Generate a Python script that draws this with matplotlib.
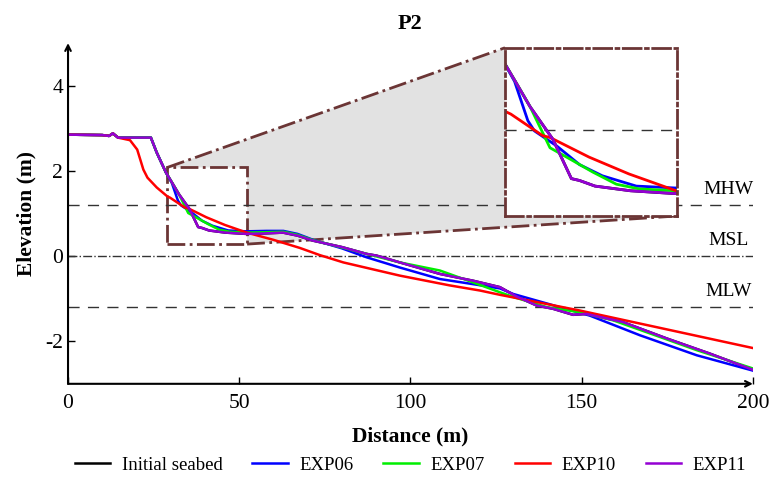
import matplotlib.pyplot as plt
from matplotlib.patches import Rectangle, Polygon

plt.rcParams['font.family'] = ['Liberation Serif', 'DejaVu Serif']
plt.rcParams['axes.unicode_minus'] = False

# profiles (distance m, elevation m)
exp11_x = [0, 10, 12, 13.1, 14.6, 20, 24.2, 25.9, 28.6, 30.4, 32.4, 35.5, 38.0, 39.1, 41.2, 46, 52, 57, 62.8,
           67, 71.6, 80, 87.2, 90.1, 96.9, 108.6, 118.3, 126.1, 131, 136.8, 141.7, 147.5, 151.4, 162, 175, 187.4, 200]
exp11_y = [2.85, 2.84, 2.82, 2.88, 2.78, 2.78, 2.78, 2.43, 1.96, 1.72, 1.45, 1.10, 0.68, 0.66, 0.60, 0.55, 0.52, 0.53, 0.55,
           0.48, 0.36, 0.21, 0.05, 0.01, -0.15, -0.42, -0.58, -0.73, -0.95, -1.16, -1.24, -1.38, -1.36, -1.55, -1.94, -2.29, -2.67]

exp06_x = [0, 10, 12, 13.1, 14.6, 20, 24.2, 25.9, 28.6, 30.3, 32.1, 33.0, 36.0, 39.1, 42.2, 46.8, 52, 58, 62.9,
           67, 71.6, 80, 87.2, 96.9, 108.6, 118.3, 126.1, 130, 143.6, 152.4, 167, 183.6, 200]
exp06_y = [2.85, 2.84, 2.82, 2.88, 2.78, 2.78, 2.78, 2.43, 1.96, 1.72, 1.30, 1.19, 1.03, 0.83, 0.71, 0.60, 0.58, 0.59, 0.59,
           0.52, 0.38, 0.18, -0.03, -0.27, -0.54, -0.66, -0.76, -0.89, -1.20, -1.40, -1.86, -2.33, -2.69]

exp07_x = [0, 10, 12, 13.1, 14.6, 20, 24.2, 25.9, 28.6, 30.4, 32.4, 35.1, 37.8, 40.9, 44.1, 47.2, 52, 58, 62.9,
           67, 71.6, 80, 87.2, 96.9, 108.6, 118.3, 126.1, 130, 139.8, 149.5, 159.2, 169, 183.6, 200]
exp07_y = [2.85, 2.84, 2.82, 2.88, 2.78, 2.78, 2.78, 2.43, 1.96, 1.72, 1.45, 1.01, 0.89, 0.75, 0.62, 0.57, 0.55, 0.56, 0.57,
           0.50, 0.37, 0.20, 0.05, -0.15, -0.34, -0.62, -0.85, -0.96, -1.20, -1.32, -1.51, -1.79, -2.21, -2.64]

exp10_x = [0, 10, 12, 13.1, 14.6, 18.1, 20.2, 22.0, 23.2, 25.9, 29.0, 29.8, 34.1, 35.1, 40.4, 45.8, 52.2, 60, 67.7,
           73.6, 80.4, 96.9, 111.5, 120.3, 126.1, 149.5, 200]
exp10_y = [2.85, 2.84, 2.82, 2.88, 2.78, 2.72, 2.50, 2.03, 1.84, 1.61, 1.40, 1.37, 1.14, 1.12, 0.91, 0.73, 0.55, 0.38, 0.19,
           0.02, -0.15, -0.46, -0.69, -0.81, -0.91, -1.28, -2.16]

init_x = exp11_x
init_y = exp11_y

series = [
    ('Initial seabed', init_x, init_y, 'black'),
    ('EXP06', exp06_x, exp06_y, '#0000ff'),
    ('EXP07', exp07_x, exp07_y, '#00ee00'),
    ('EXP10', exp10_x, exp10_y, '#ff0000'),
    ('EXP11', exp11_x, exp11_y, '#9400d3'),
]

levels = {'MHW': 1.2, 'MSL': 0.0, 'MLW': -1.2}

# zoom window (data) and where the inset sits (data coords of main axes)
zx0, zx1, zy0, zy1 = 29.0, 52.3, 0.28, 2.08
ix0, ix1, iy0, iy1 = 127.6, 177.8, 0.94, 4.89
box_color = '#6b3535'

fig = plt.figure(figsize=(7.73, 4.84), dpi=100)
ax = fig.add_axes([0.088, 0.207, 0.886, 0.704])

poly = Polygon([(zx0, zy1), (ix0, iy1), (ix1, iy0), (zx1, zy0), (zx1, zy1)],
               closed=True, facecolor='#e2e2e2', edgecolor='none', zorder=1)
ax.add_patch(poly)
ax.plot([zx0, ix0], [zy1, iy1], color=box_color, lw=2, ls='-.', zorder=1.5)
ax.plot([zx1, ix1], [zy0, iy0], color=box_color, lw=2, ls='-.', zorder=1.5)
ax.add_patch(Rectangle((zx0, zy0), zx1 - zx0, zy1 - zy0, fill=False,
                       edgecolor=box_color, lw=2, ls='-.', zorder=1.5))

for name, y in levels.items():
    ax.axhline(y, color='#333333', lw=1, ls='-.' if name == 'MSL' else (0, (8, 6)), zorder=2)
    ax.text(193, y + 0.37, name, ha='center', va='center', fontsize=14)

for name, xs, ys, c in series:
    ax.plot(xs, ys, color=c, lw=1.8, label=name, zorder=3)

ax.set_xlim(0, 200)
ax.set_ylim(-3, 5)
ax.set_xticks([0, 50, 100, 150, 200])
ax.set_yticks([-2, 0, 2, 4])
ax.tick_params(direction='in', length=5, width=1, labelsize=15.5)
ax.tick_params(axis='x', pad=7)
for s in ['top', 'right', 'left', 'bottom']:
    ax.spines[s].set_visible(False)
ax.annotate('', xy=(1.0, 0), xytext=(0, 0), xycoords='axes fraction',
            arrowprops=dict(arrowstyle='->', lw=1.5, color='black', shrinkA=0, shrinkB=0))
ax.annotate('', xy=(0, 1.0), xytext=(0, 0), xycoords='axes fraction',
            arrowprops=dict(arrowstyle='->', lw=1.5, color='black', shrinkA=0, shrinkB=0))

ax.set_title('P2', fontsize=16, fontweight='bold', pad=10)
ax.set_xlabel('Distance (m)', fontsize=15.5, fontweight='bold', labelpad=10)
ax.set_ylabel('Elevation (m)', fontsize=15.5, fontweight='bold', labelpad=6)

ax.legend(loc='upper center', bbox_to_anchor=(0.5, -0.165), ncol=5, frameon=False,
          fontsize=13.5, handlelength=1.9, handletextpad=0.6, columnspacing=1.6)

# inset
axi = ax.inset_axes([ix0, iy0, ix1 - ix0, iy1 - iy0], transform=ax.transData, zorder=4)
axi.axhline(levels['MHW'], color='#333333', lw=1, ls=(0, (8, 6)))
for name, xs, ys, c in series:
    axi.plot(xs, ys, color=c, lw=2)
axi.set_xlim(zx0, zx1)
axi.set_ylim(zy0, zy1)
axi.set_xticks([])
axi.set_yticks([])
for s in axi.spines.values():
    s.set_edgecolor(box_color)
    s.set_linewidth(2)
    s.set_linestyle('-.')

fig.savefig('out.png', dpi=100)
